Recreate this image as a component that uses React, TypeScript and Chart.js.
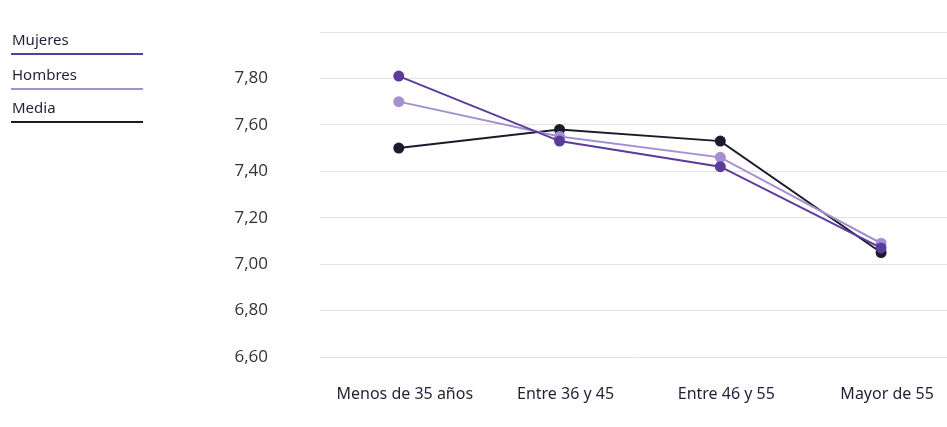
import React, { useEffect, useRef } from "react";
import { Chart, registerables } from "chart.js";

Chart.register(...registerables);

// Age groups on the horizontal axis
const categories = ["Menos de 35 años", "Entre 36 y 45", "Entre 46 y 55", "Mayor de 55"];

// Average score per age group
const mujeres = [7.81, 7.53, 7.42, 7.07];
const hombres = [7.7, 7.55, 7.46, 7.09];
const media = [7.5, 7.58, 7.53, 7.05];

// Vertical axis
const yMin = 6.6;
const yMax = 8.0;
const yStep = 0.2;

const series = [
  { label: "Mujeres", values: mujeres, color: "#5b3b9c" },
  { label: "Hombres", values: hombres, color: "#a48fd1" },
  { label: "Media", values: media, color: "#1c1b2c" },
];

const legendLineY = [54, 89, 122];

const clearPadding = (scale: any) => {
  scale.paddingTop = 0;
  scale.paddingBottom = 0;
  scale.paddingLeft = 0;
  scale.paddingRight = 0;
};

export default function App() {
  const canvasRef = useRef<HTMLCanvasElement | null>(null);

  useEffect(() => {
    if (!canvasRef.current) return;
    const chart = new Chart(canvasRef.current, {
      type: "line",
      data: {
        datasets: series.map((s) => ({
          label: s.label,
          data: s.values.map((v, i) => ({ x: i, y: v })),
          borderColor: s.color,
          backgroundColor: s.color,
          pointBackgroundColor: s.color,
          pointBorderColor: s.color,
          pointRadius: 5.5,
          pointBorderWidth: 0,
          borderWidth: 2,
          tension: 0,
        })),
      },
      options: {
        animation: false,
        responsive: false,
        maintainAspectRatio: false,
        layout: { autoPadding: false, padding: { top: 32, right: 0, bottom: 0, left: 0 } },
        plugins: { legend: { display: false }, title: { display: false }, tooltip: { enabled: false } },
        scales: {
          x: {
            type: "linear",
            min: -0.49,
            max: 3.41,
            afterBuildTicks: (scale: any) => {
              scale.ticks = categories.map((_, i) => ({ value: i }));
            },
            afterFit: (scale: any) => {
              scale.height = 70;
              clearPadding(scale);
            },
            grid: { display: false, drawTicks: false },
            border: { display: false },
            ticks: {
              autoSkip: false,
              maxRotation: 0,
              padding: 28,
              labelOffset: 6,
              color: "#1f2137",
              font: { family: "'Noto Sans'", size: 16 },
              callback: (v: any) => categories[Math.round(Number(v))] ?? "",
            },
          },
          y: {
            min: yMin,
            max: yMax,
            afterFit: (scale: any) => {
              scale.width = 320;
              clearPadding(scale);
            },
            grid: { color: "#e2e2e2", lineWidth: 1, drawTicks: false },
            border: { display: false },
            ticks: {
              stepSize: yStep,
              padding: 52,
              color: "#333333",
              font: { family: "'Open Sans'", size: 17 },
              callback: (v: any) => (Number(v) >= yMax - 1e-6 ? "" : Number(v).toFixed(2).replace(".", ",")),
            },
          },
        },
      },
    });
    return () => chart.destroy();
  }, []);

  return (
    <div style={{ position: "fixed", left: 0, top: 0, width: 947, height: 427, background: "#ffffff" }}>
      <canvas ref={canvasRef} width={947} height={427} style={{ position: "absolute", left: 0, top: 0 }} />
      {series.map((s, i) => (
        <React.Fragment key={s.label}>
          <div
            style={{
              position: "absolute",
              left: 12,
              top: legendLineY[i] - 26,
              fontFamily: "'Noto Sans'",
              fontSize: 15,
              lineHeight: "22px",
              color: "#1f2137",
            }}
          >
            {s.label}
          </div>
          <div
            style={{
              position: "absolute",
              left: 11,
              top: legendLineY[i] - 1,
              width: 132,
              height: 2,
              background: s.color,
            }}
          />
        </React.Fragment>
      ))}
    </div>
  );
}
